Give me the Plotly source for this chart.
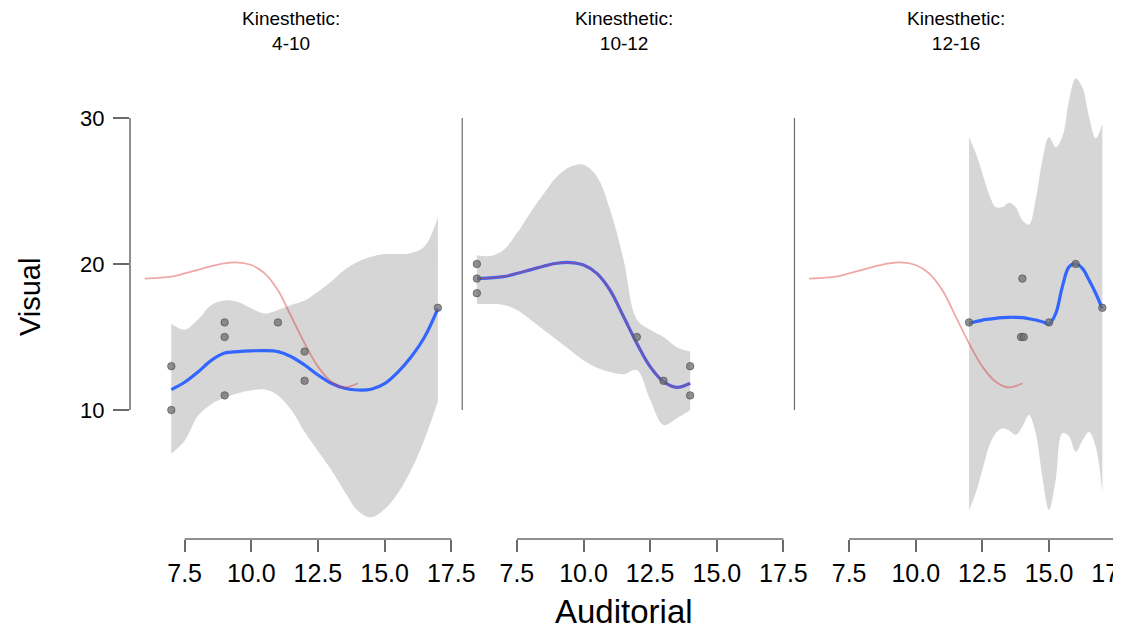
import plotly.graph_objects as go

# ---------------- data ----------------
strip_labels = ["Kinesthetic:<br>4-10", "Kinesthetic:<br>10-12", "Kinesthetic:<br>12-16"]
x_tickvals = [7.5, 10.0, 12.5, 15.0, 17.5]
x_ticktext = ["7.5", "10.0", "12.5", "15.0", "17.5"]
y_tickvals = [10, 20, 30]
y_ticktext = ["10", "20", "30"]

# panel 1 (Kinesthetic 4-10)
p1_pts_x = [7, 7, 9, 9, 9, 11, 12, 12, 17]
p1_pts_y = [13, 10, 16, 15, 11, 16, 14, 12, 17]
p1_fit_x = [7.0, 7.5, 8.0, 8.5, 9.0, 9.5, 10.0, 10.5, 11.0, 11.5, 12.0, 12.5, 13.0, 13.5,
            14.0, 14.5, 15.0, 15.5, 16.0, 16.5, 17.0]
p1_fit_y = [11.4, 11.9, 12.6, 13.4, 13.9, 14.0, 14.05, 14.07, 14.0, 13.65, 13.08, 12.4, 11.83,
            11.49, 11.37, 11.42, 11.8, 12.6, 13.65, 15.0, 16.95]
p1_hi = [15.9, 15.5, 16.2, 17.2, 17.5, 17.4, 16.97, 16.6, 16.85, 17.2, 17.5, 18.1, 18.8, 19.6,
         20.16, 20.5, 20.68, 20.68, 20.75, 21.2, 23.2]
p1_lo = [7.0, 7.9, 9.6, 10.4, 10.85, 11.15, 11.35, 11.4, 11.0, 10.0, 8.5, 7.2, 5.9, 4.4,
         3.1, 2.65, 3.2, 4.3, 5.9, 8.0, 10.6]

# panel 2 (Kinesthetic 10-12)
p2_pts_x = [6, 6, 6, 12, 13, 14, 14]
p2_pts_y = [20, 19, 18, 15, 12, 13, 11]
p2_fit_x = [6.0, 6.5, 7.0, 7.5, 8.0, 8.5, 9.0, 9.5, 10.0, 10.5, 11.0, 11.5, 12.0, 12.5,
            13.0, 13.5, 14.0]
p2_fit_y = [19.0, 19.05, 19.13, 19.35, 19.6, 19.85, 20.05, 20.1, 19.93, 19.36, 18.2, 16.4,
            14.57, 12.97, 11.94, 11.55, 11.83]
p2_hi = [20.6, 20.55, 20.96, 22.1, 23.5, 24.8, 25.98, 26.66, 26.8, 26.0, 23.7, 20.3, 16.2,
         15.5, 15.0, 14.3, 14.0]
p2_lo = [17.26, 17.26, 17.2, 16.85, 16.2, 15.5, 14.8, 14.1, 13.4, 12.9, 12.6, 12.45, 12.74,
         10.7, 8.97, 9.43, 10.0]

# panel 3 (Kinesthetic 12-16)
p3_pts_x = [12, 14, 13.95, 14.05, 15, 16, 17]
p3_pts_y = [16, 19, 15, 15, 16, 20, 17]
p3_fit_x = [12.0, 12.25, 12.5, 12.75, 13.0, 13.25, 13.5, 13.75, 14.0, 14.25, 14.5, 14.75,
            15.0, 15.25, 15.5, 15.75, 16.0, 16.25, 16.5, 16.75, 17.0]
p3_fit_y = [15.94, 16.05, 16.16, 16.22, 16.28, 16.32, 16.35, 16.35, 16.33, 16.25, 16.16,
            16.05, 15.9, 16.6, 18.45, 19.8, 20.0, 19.7, 18.9, 18.0, 16.94]
p3_hi = [28.7, 27.6, 26.2, 24.8, 23.9, 23.9, 24.2, 23.9, 23.0, 22.7, 24.4, 27.1, 28.7, 28.0,
         28.7, 31.2, 32.7, 32.1, 30.1, 28.6, 29.6]
p3_lo = [3.15, 4.3, 5.9, 7.5, 8.4, 8.75, 8.6, 8.3, 8.86, 9.66, 8.4, 5.4, 3.15, 5.2, 8.4, 8.2,
         7.14, 7.9, 8.5, 7.5, 4.3]

# reference curve (red) drawn in every panel
ref_x = p2_fit_x
ref_y = p2_fit_y

panels = [
    (p1_pts_x, p1_pts_y, p1_fit_x, p1_fit_y, p1_lo, p1_hi),
    (p2_pts_x, p2_pts_y, p2_fit_x, p2_fit_y, p2_lo, p2_hi),
    (p3_pts_x, p3_pts_y, p3_fit_x, p3_fit_y, p3_lo, p3_hi),
]

# ---------------- figure ----------------
FONT = "Liberation Sans, Arial, sans-serif"
AXIS_COL = "#6a6a6a"
BAND = "rgba(153,153,153,0.4)"
BLUE = "#3366FF"
RED = "rgba(220,60,60,0.45)"

# page body has an 8px margin, so the figure is sized to fit the 1121x630 window
W, H = 1113, 622
ML, MR, MT, MB = 122, 4, 47, 91
domains = [[0.0, 0.3268], [0.3366, 0.6634], [0.6732, 1.0]]

fig = go.Figure()
for i, (px, py, fx, fy, lo, hi) in enumerate(panels):
    xa = "x" if i == 0 else f"x{i+1}"
    fig.add_trace(go.Scatter(x=fx, y=lo, mode="lines", line=dict(width=0, shape="spline"),
                             xaxis=xa, yaxis="y", showlegend=False, hoverinfo="skip"))
    fig.add_trace(go.Scatter(x=fx, y=hi, mode="lines", line=dict(width=0, shape="spline"),
                             fill="tonexty", fillcolor=BAND,
                             xaxis=xa, yaxis="y", showlegend=False, hoverinfo="skip"))
    fig.add_trace(go.Scatter(x=fx, y=fy, mode="lines", line=dict(color=BLUE, width=3.2, shape="spline"),
                             xaxis=xa, yaxis="y", showlegend=False))
    fig.add_trace(go.Scatter(x=ref_x, y=ref_y, mode="lines", line=dict(color=RED, width=1.8, shape="spline"),
                             xaxis=xa, yaxis="y", showlegend=False))
    fig.add_trace(go.Scatter(x=px, y=py, mode="markers",
                             marker=dict(size=7.5, color="rgba(110,110,110,0.75)",
                                         line=dict(width=1, color="rgba(70,70,70,0.6)")),
                             xaxis=xa, yaxis="y", showlegend=False))

xaxis_common = dict(range=[5.45, 17.55], tickvals=x_tickvals, ticktext=x_ticktext,
                    ticks="outside", ticklen=12, tickwidth=1.5, tickcolor=AXIS_COL,
                    ticklabeloverflow="allow",
                    showgrid=False, zeroline=False, showline=False, automargin=False,
                    tickfont=dict(family=FONT, size=25, color="#000"), anchor="y")
layout_axes = {}
for i in range(3):
    key = "xaxis" if i == 0 else f"xaxis{i+1}"
    layout_axes[key] = dict(xaxis_common, domain=domains[i])

fig.update_layout(
    width=W, height=H,
    margin=dict(l=ML, r=MR, t=MT, b=MB),
    paper_bgcolor="white", plot_bgcolor="white",
    template="none",
    showlegend=False,
    yaxis=dict(range=[1.164, 34.315], tickvals=y_tickvals, ticktext=y_ticktext,
               ticks="outside", ticklen=16, tickwidth=1.5, tickcolor=AXIS_COL,
               ticklabelstandoff=4,
               showgrid=False, zeroline=False, showline=False, automargin=False,
               tickfont=dict(family=FONT, size=22, color="#000"), anchor="x"),
    **layout_axes,
)

shapes = []
for i in range(3):
    xr = "x" if i == 0 else f"x{i+1}"
    shapes.append(dict(type="line", xref=xr, yref="paper", x0=x_tickvals[0], x1=x_tickvals[-1],
                       y0=0, y1=0, line=dict(color=AXIS_COL, width=1.5)))
    shapes.append(dict(type="line", xref=f"{xr} domain", yref="y", x0=0, x1=0,
                       y0=y_tickvals[0], y1=y_tickvals[-1],
                       line=dict(color=AXIS_COL, width=1.5 if i == 0 else 1.2)))
fig.update_layout(shapes=shapes)

ann = []
for i, lab in enumerate(strip_labels):
    xr = "x" if i == 0 else f"x{i+1}"
    ann.append(dict(text=lab, xref=f"{xr} domain", yref="paper", x=0.5, y=1.049,
                    xanchor="center", yanchor="middle", showarrow=False,
                    font=dict(family=FONT, size=19, color="#000")))
ann.append(dict(text="Visual", xref="paper", yref="paper", x=-0.1013, y=0.5,
                xanchor="center", yanchor="middle", textangle=-90, showarrow=False,
                font=dict(family=FONT, size=29, color="#000")))
ann.append(dict(text="Auditorial", xref="paper", yref="paper", x=0.5, y=-0.149,
                xanchor="center", yanchor="middle", showarrow=False,
                font=dict(family=FONT, size=33, color="#000")))
fig.update_layout(annotations=ann)

fig.write_html("out.html")
